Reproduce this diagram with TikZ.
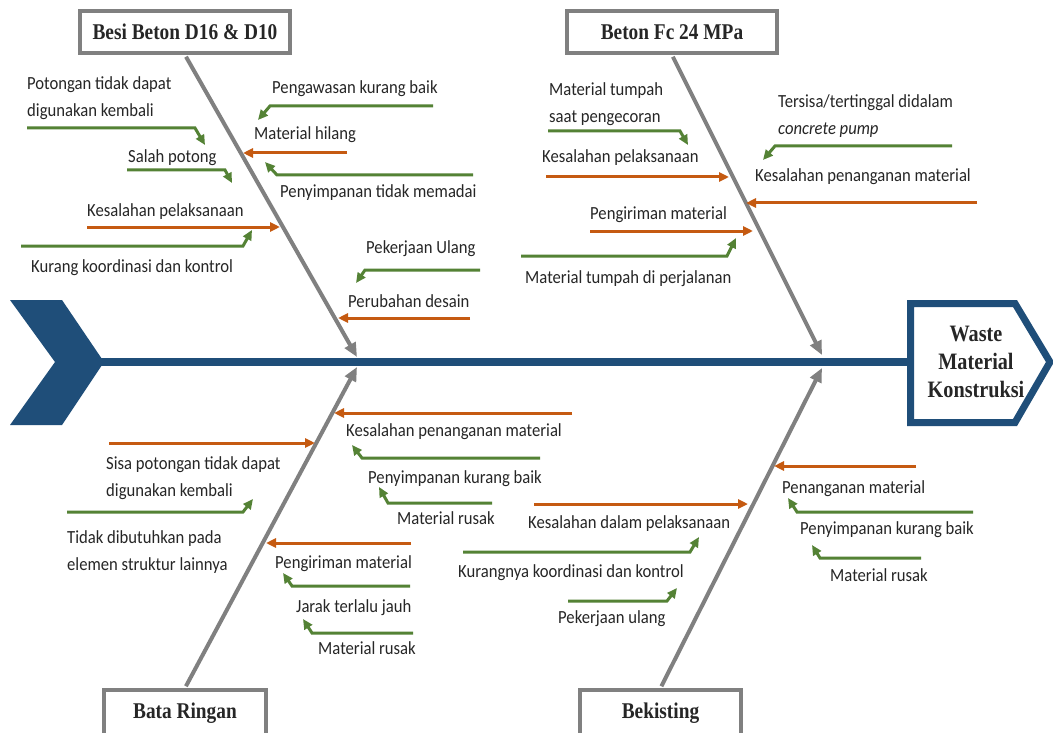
\documentclass[tikz,border=0pt]{standalone}
\usepackage{fontspec}
\setmainfont{Carlito}[FakeStretch=0.9]
\newfontfamily\titlefont{Liberation Serif}[FakeStretch=0.86]
\usetikzlibrary{arrows.meta,positioning}
\definecolor{spineblue}{HTML}{1F4E79}
\definecolor{causeorange}{HTML}{C55A11}
\definecolor{causegreen}{HTML}{548235}
\definecolor{bonegray}{HTML}{808080}

\begin{document}
\begin{tikzpicture}[x=1pt,y=-1pt,>={Triangle[length=10pt,width=9pt]},
    every node/.style={inner sep=0pt,text=black!85},
    cat/.style={draw=bonegray,line width=4pt,fill=white,minimum width=210pt,
      minimum height=42pt,font=\titlefont\bfseries\fontsize{22.5}{26}\selectfont},
    bone/.style={draw=bonegray,line width=4pt,-{Triangle[length=14pt,width=12pt]}},
    hot/.style={draw=causeorange,line width=3pt,->},
    sub/.style={draw=causegreen,line width=3pt,->},
    txt/.style={anchor=west,yshift=-3.5pt,text height=0.72em,text depth=0.22em,
      font=\fontsize{18.5}{27}\selectfont},
    txtt/.style={anchor=west,yshift=-3.5pt,align=left,font=\fontsize{18.5}{27}\selectfont}]
  \useasboundingbox[fill=white] (0,0) rectangle (1053,733);

  % spine and head
  \fill[spineblue] (10,300) -- (62,300) -- (104,362) -- (62,425) -- (10,425)
    -- (55,362) -- cycle;
  \coordinate (tail) at (100,362);
  \coordinate (head) at (907,362);
  \draw[spineblue,line width=8pt] (tail) -- (head);
  \draw[spineblue,line width=7pt,fill=white] (910.5,303.5) -- (1015,303.5)
    -- (1050,362) -- (1015,422.5) -- (910.5,422.5) -- cycle;
  \node[font=\titlefont\bfseries\fontsize{23.5}{28}\selectfont,align=center]
    (waste) at (976,362) {Waste\\Material\\Konstruksi};

  % main bones
  \coordinate (jtl) at (357,357);
  \coordinate (jtr) at (822,355);
  \coordinate (jbl) at (357,367);
  \coordinate (jbr) at (822,368);
  \node[cat] (besi) at (185,32) {Besi Beton D16 \& D10};
  \node[cat] (beton) at (672,32) {Beton Fc 24 MPa};
  \node[cat,minimum width=162pt,minimum height=46pt] (bata) at (185,713) {Bata Ringan};
  \node[cat,minimum width=161pt,minimum height=46pt] (bekisting) at (660.5,713) {Bekisting};
  \draw[bone,shorten <=2pt] (besi.south) -- (jtl);
  \draw[bone,shorten <=2pt] (beton.south) -- (jtr);
  \draw[bone,shorten <=2pt] (bata.north) -- (jbl);
  \draw[bone,shorten <=2pt] (bekisting.north) -- (jbr);

  % Besi Beton D16 & D10
  \coordinate (b1s) at (87,227);   \coordinate (b1e) at (280,227);
  \coordinate (b2s) at (347,153);  \coordinate (b2e) at (243,153);
  \coordinate (b3s) at (470,318);  \coordinate (b3e) at (338,318);
  \coordinate (b4s) at (27,128);   \coordinate (b4m) at (195,128);  \coordinate (b4e) at (205,145);
  \coordinate (b5s) at (127,170);  \coordinate (b5m) at (225,170);  \coordinate (b5e) at (232,183);
  \coordinate (b6s) at (21,246);   \coordinate (b6m) at (243,246);  \coordinate (b6e) at (252,230);
  \coordinate (b7s) at (433,106);  \coordinate (b7m) at (270,106);  \coordinate (b7e) at (258,120);
  \coordinate (b8s) at (473,175);  \coordinate (b8m) at (277,175);  \coordinate (b8e) at (265,162);
  \coordinate (b9s) at (480,270);  \coordinate (b9m) at (365,270);  \coordinate (b9e) at (356,283);
  \draw[hot] (b1s) -- (b1e);
  \draw[hot] (b2s) -- (b2e);
  \draw[hot] (b3s) -- (b3e);
  \draw[sub] (b4s) -- (b4m) -- (b4e);
  \draw[sub] (b5s) -- (b5m) -- (b5e);
  \draw[sub] (b6s) -- (b6m) -- (b6e);
  \draw[sub] (b7s) -- (b7m) -- (b7e);
  \draw[sub] (b8s) -- (b8m) -- (b8e);
  \draw[sub] (b9s) -- (b9m) -- (b9e);
  \node[txt] (b1) at (87,210) {Kesalahan pelaksanaan};
  \node[txt] (b2) at (254,134) {Material hilang};
  \node[txt] (b3) at (348,301) {Perubahan desain};
  \node[txtt] (b4) at (27,95) {Potongan tidak dapat\\digunakan kembali};
  \node[txt] (b5) at (128,157) {Salah potong};
  \node[txt] (b6) at (31,266) {Kurang koordinasi dan kontrol};
  \node[txt] (b7) at (272,88) {Pengawasan kurang baik};
  \node[txt] (b8) at (280,191) {Penyimpanan tidak memadai};
  \node[txt] (b9) at (366,247) {Pekerjaan Ulang};

  % Beton Fc 24 MPa
  \coordinate (c1s) at (546,177);  \coordinate (c1e) at (729,177);
  \coordinate (c2s) at (590,231);  \coordinate (c2e) at (753,231);
  \coordinate (c3s) at (977,203);  \coordinate (c3e) at (746,203);
  \coordinate (c4s) at (548,131);  \coordinate (c4m) at (680,131);  \coordinate (c4e) at (688,145);
  \coordinate (c5s) at (521,256);  \coordinate (c5m) at (727,256);  \coordinate (c5e) at (736,238);
  \coordinate (c6s) at (952,146);  \coordinate (c6m) at (775,146);  \coordinate (c6e) at (763,160);
  \draw[hot] (c1s) -- (c1e);
  \draw[hot] (c2s) -- (c2e);
  \draw[hot] (c3s) -- (c3e);
  \draw[sub] (c4s) -- (c4m) -- (c4e);
  \draw[sub] (c5s) -- (c5m) -- (c5e);
  \draw[sub] (c6s) -- (c6m) -- (c6e);
  \node[txt] (c1) at (542,157) {Kesalahan pelaksanaan};
  \node[txt] (c2) at (590,213) {Pengiriman material};
  \node[txt] (c3) at (755,176) {Kesalahan penanganan material};
  \node[txtt] (c4) at (549,100.5) {Material tumpah\\saat pengecoran};
  \node[txt] (c5) at (525,277) {Material tumpah di perjalanan};
  \node[txtt] (c6) at (778,113) {Tersisa/tertinggal didalam\\\textit{concrete pump}};

  % Bata Ringan
  \coordinate (r1s) at (109,443);  \coordinate (r1e) at (315,443);
  \coordinate (r2s) at (572,413);  \coordinate (r2e) at (334,413);
  \coordinate (r3s) at (411,543);  \coordinate (r3e) at (266,543);
  \coordinate (r4s) at (67,512);   \coordinate (r4m) at (243,512);  \coordinate (r4e) at (253,499);
  \coordinate (r5s) at (540,458);  \coordinate (r5m) at (362,458);  \coordinate (r5e) at (352,445);
  \coordinate (r6s) at (492,503);  \coordinate (r6m) at (388,503);  \coordinate (r6e) at (379,487);
  \coordinate (r7s) at (410,586);  \coordinate (r7m) at (292,586);  \coordinate (r7e) at (283,573);
  \coordinate (r8s) at (413,633);  \coordinate (r8m) at (312,633);  \coordinate (r8e) at (303,619);
  \draw[hot] (r1s) -- (r1e);
  \draw[hot] (r2s) -- (r2e);
  \draw[hot] (r3s) -- (r3e);
  \draw[sub] (r4s) -- (r4m) -- (r4e);
  \draw[sub] (r5s) -- (r5m) -- (r5e);
  \draw[sub] (r6s) -- (r6m) -- (r6e);
  \draw[sub] (r7s) -- (r7m) -- (r7e);
  \draw[sub] (r8s) -- (r8m) -- (r8e);
  \node[txtt] (r1) at (106,474.5) {Sisa potongan tidak dapat\\digunakan kembali};
  \node[txt] (r2) at (346,430) {Kesalahan penanganan material};
  \node[txt] (r3) at (275,562) {Pengiriman material};
  \node[txtt] (r4) at (67,548.5) {Tidak dibutuhkan pada\\elemen struktur lainnya};
  \node[txt] (r5) at (368,477) {Penyimpanan kurang baik};
  \node[txt] (r6) at (397,518) {Material rusak};
  \node[txt] (r7) at (296,606) {Jarak terlalu jauh};
  \node[txt] (r8) at (318,648) {Material rusak};

  % Bekisting
  \coordinate (k1s) at (534,504);  \coordinate (k1e) at (748,504);
  \coordinate (k2s) at (916,466);  \coordinate (k2e) at (774,466);
  \coordinate (k3s) at (463,552);  \coordinate (k3m) at (690,552);  \coordinate (k3e) at (699,537);
  \coordinate (k4s) at (568,601);  \coordinate (k4m) at (667,601);  \coordinate (k4e) at (677,588);
  \coordinate (k5s) at (973,512);  \coordinate (k5m) at (797,512);  \coordinate (k5e) at (788,498);
  \coordinate (k6s) at (921,558);  \coordinate (k6m) at (820,558);  \coordinate (k6e) at (812,545);
  \draw[hot] (k1s) -- (k1e);
  \draw[hot] (k2s) -- (k2e);
  \draw[sub] (k3s) -- (k3m) -- (k3e);
  \draw[sub] (k4s) -- (k4m) -- (k4e);
  \draw[sub] (k5s) -- (k5m) -- (k5e);
  \draw[sub] (k6s) -- (k6m) -- (k6e);
  \node[txt] (k1) at (528,522) {Kesalahan dalam pelaksanaan};
  \node[txt] (k2) at (782,487) {Penanganan material};
  \node[txt] (k3) at (458,571) {Kurangnya koordinasi dan kontrol};
  \node[txt] (k4) at (558,617) {Pekerjaan ulang};
  \node[txt] (k5) at (800,528) {Penyimpanan kurang baik};
  \node[txt] (k6) at (830,575) {Material rusak};
\end{tikzpicture}
\end{document}
